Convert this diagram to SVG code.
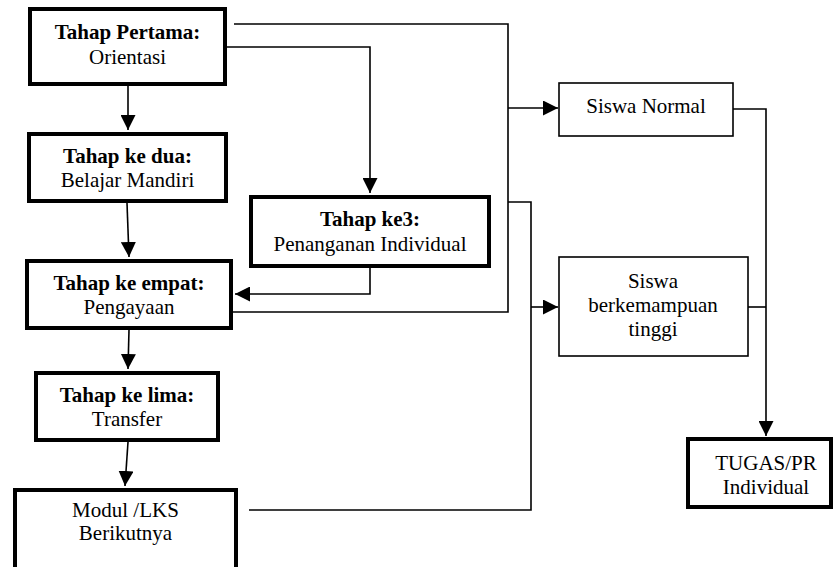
<svg xmlns="http://www.w3.org/2000/svg" width="833" height="567" viewBox="0 0 833 567">
<style>
.bg{fill:#fff}
.thick{fill:#fff;stroke:#000;stroke-width:4}
.thin{fill:#fff;stroke:#000;stroke-width:1.6}
.c{fill:none;stroke:#000;stroke-width:1.6}
text{font-family:"Liberation Serif","Times New Roman",serif;font-size:21px;fill:#000;text-anchor:middle}
.b{font-weight:bold}
</style>
<defs>
<marker id="ah" markerUnits="userSpaceOnUse" markerWidth="15" markerHeight="15" refX="15" refY="7.5" orient="auto">
<path d="M0,0 L15,7.5 L0,15 z" fill="#000"/>
</marker>
</defs>
<rect class="bg" x="0" y="0" width="833" height="567"/>
<g id="connectors">
<path class="c" d="M128,86 L128,130" marker-end="url(#ah)"/>
<path class="c" d="M127,203 L129,257" marker-end="url(#ah)"/>
<path class="c" d="M129,330 L128,369" marker-end="url(#ah)"/>
<path class="c" d="M128,442 L125,486" marker-end="url(#ah)"/>
<path class="c" d="M227,47 L370,47 L370,193" marker-end="url(#ah)"/>
<path class="c" d="M370,268 L370,294 L235,294" marker-end="url(#ah)"/>
<path class="c" d="M234,24 L508,24 L508,312 L227,312"/>
<path class="c" d="M508,108 L558,108" marker-end="url(#ah)"/>
<path class="c" d="M508,202 L531,202 L531,510 L249,510"/>
<path class="c" d="M531,307 L558,307" marker-end="url(#ah)"/>
<path class="c" d="M733,109 L766,109 L766,436" marker-end="url(#ah)"/>
<path class="c" d="M748,307 L766,307"/>
</g>
<g id="tahap1">
<rect class="thick" x="30" y="9" width="195" height="75"/>
<text class="b" x="127.5" y="39">Tahap Pertama:</text>
<text x="127.5" y="64">Orientasi</text>
</g>
<g id="tahap2">
<rect class="thick" x="29" y="134" width="197" height="67"/>
<text class="b" x="127.5" y="163">Tahap ke dua:</text>
<text x="127.5" y="187">Belajar Mandiri</text>
</g>
<g id="tahap3">
<rect class="thick" x="251" y="197" width="238" height="69"/>
<text class="b" x="370" y="226">Tahap ke3:</text>
<text x="370" y="251">Penanganan Individual</text>
</g>
<g id="tahap4">
<rect class="thick" x="27" y="261" width="204" height="67"/>
<text class="b" x="129" y="290">Tahap ke empat:</text>
<text x="129" y="314">Pengayaan</text>
</g>
<g id="tahap5">
<rect class="thick" x="36" y="373" width="182" height="67"/>
<text class="b" x="127" y="402">Tahap ke lima:</text>
<text x="127" y="426">Transfer</text>
</g>
<g id="modul">
<rect class="thick" x="15" y="490" width="221" height="90"/>
<text x="125.5" y="517">Modul /LKS</text>
<text x="125.5" y="540">Berikutnya</text>
</g>
<g id="siswa-normal">
<rect class="thin" x="559" y="83" width="174" height="53"/>
<text x="646" y="113">Siswa Normal</text>
</g>
<g id="siswa-tinggi">
<rect class="thin" x="559" y="257" width="189" height="99"/>
<text x="653" y="288">Siswa</text>
<text x="653" y="312">berkemampuan</text>
<text x="653" y="336">tinggi</text>
</g>
<g id="tugas">
<rect class="thick" x="688" y="439" width="143" height="68"/>
<text x="766" y="470">TUGAS/PR</text>
<text x="766" y="494">Individual</text>
</g>
</svg>
